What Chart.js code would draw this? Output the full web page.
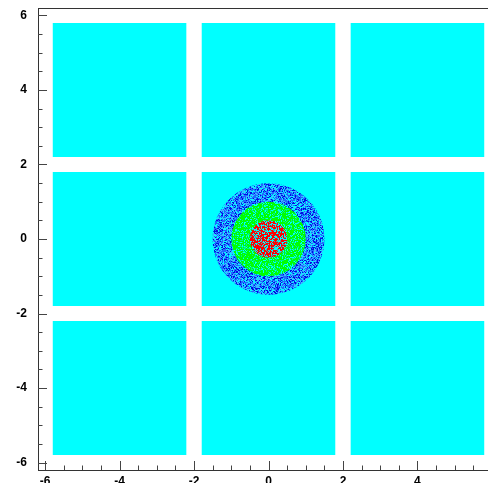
<!DOCTYPE html>
<html lang="en">
<head>
<meta charset="UTF-8">
<title>Detector cells</title>
<script src="https://cdn.jsdelivr.net/npm/chart.js"></script>
<style>
    html, body { margin: 0; padding: 0; overflow: hidden; background: #fff; }
    #wrap { width: 520px; height: 483px; }
</style>
</head>
<body>
<div id="wrap"><canvas id="cellChart" width="520" height="483"></canvas></div>
<script>
// cell edges, same on both axes
const cellLo = [-5.8, -1.8, 2.2];
const cellHi = [-2.2, 1.8, 5.8];

// hit zones around the centre cell, drawn outer first
const ringNames = ['outer', 'middle', 'core'];
const ringX = [0, 0, 0];
const ringY = [0, 0, 0];
const ringRadius = [1.5, 1.0, 0.5];

const majorTicks = [-6, -4, -2, 0, 2, 4, 6];

// speckle fill (style only): colours and their share of pixels, rest is cyan
const ringPalette = [
    [['#0010e0', '#2068ff', '#40b4ff'], [0.22, 0.36, 0.22]],
    [['#00ff00', '#00f088'], [0.64, 0.18]],
    [['#ff0000', '#4aa6a6'], [0.58, 0.12]]
];

function speckle(colors, shares) {
    const n = 128;
    const c = document.createElement('canvas');
    c.width = n; c.height = n;
    const g = c.getContext('2d');
    g.fillStyle = '#00ffff';
    g.fillRect(0, 0, n, n);
    for (let y = 0; y < n; y++) {
        for (let x = 0; x < n; x++) {
            let h = (Math.imul(x + 7, 374761393) + Math.imul(y + 3, 668265263)) | 0;
            h = Math.imul(h ^ (h >>> 13), 1274126177);
            h = (h ^ (h >>> 16)) >>> 0;
            const u = (h % 1000) / 1000;
            let acc = 0;
            for (let i = 0; i < shares.length; i++) {
                acc += shares[i];
                if (u < acc) { g.fillStyle = colors[i]; g.fillRect(x, y, 1, 1); break; }
            }
        }
    }
    return g.createPattern(c, 'repeat');
}

const datasets = [];
cellLo.forEach((y0, j) => {
    cellLo.forEach((x0, i) => {
        datasets.push({
            type: 'line',
            label: 'cell ' + i + ',' + j,
            order: 10,
            data: [{ x: x0, y: cellHi[j] }, { x: cellHi[i], y: cellHi[j] }],
            fill: { value: y0 },
            backgroundColor: '#00ffff',
            borderColor: 'rgba(0,0,0,0)',
            borderWidth: 0,
            pointRadius: 0
        });
    });
});

ringRadius.forEach((r, k) => {
    datasets.push({
        type: 'scatter',
        label: ringNames[k],
        order: 3 - k,
        data: [{ x: ringX[k], y: ringY[k] }],
        pointStyle: 'circle',
        pointRadius: ctx => {
            const s = ctx.chart.scales.x;
            return Math.abs(s.getPixelForValue(ringX[k] + r) - s.getPixelForValue(ringX[k]));
        },
        pointBackgroundColor: speckle(ringPalette[k][0], ringPalette[k][1]),
        pointBorderWidth: 0,
        pointBorderColor: 'rgba(0,0,0,0)'
    });
});

// ROOT style frame with inside ticks
const frameTicks = {
    id: 'frameTicks',
    afterDraw(chart) {
        const { ctx, chartArea: a, scales: { x, y } } = chart;
        ctx.save();
        ctx.strokeStyle = '#333';
        ctx.lineWidth = 1;
        ctx.strokeRect(a.left + 0.5, a.top + 0.5, a.right - a.left, a.bottom - a.top);
        ctx.strokeStyle = '#444';
        ctx.beginPath();
        for (let v = majorTicks[0]; v <= majorTicks[majorTicks.length - 1] + 1e-6; v += 0.5) {
            const len = majorTicks.includes(v) ? 9 : 4.5;
            const px = Math.round(x.getPixelForValue(v)) + 0.5;
            ctx.moveTo(px, a.bottom);
            ctx.lineTo(px, a.bottom - len);
            const py = Math.round(y.getPixelForValue(v)) + 0.5;
            ctx.moveTo(a.left, py);
            ctx.lineTo(a.left + len, py);
        }
        ctx.stroke();
        ctx.restore();
    }
};

const tickFont = { family: 'Liberation Sans', size: 12, weight: 'bold' };

new Chart(document.getElementById('cellChart').getContext('2d'), {
    type: 'scatter',
    data: { datasets: datasets },
    plugins: [frameTicks],
    options: {
        responsive: false,
        animation: false,
        devicePixelRatio: 1,
        events: [],
        layout: { padding: { top: 8, right: 21, left: 0, bottom: 0 } },
        plugins: { legend: { display: false }, tooltip: { enabled: false } },
        scales: {
            x: {
                type: 'linear',
                min: -6.19, max: 6.19,
                afterBuildTicks: s => { s.ticks = majorTicks.map(v => ({ value: v })); },
                afterFit: s => { s.height = 13; s.paddingLeft = 0; s.paddingRight = 0; },
                grid: { display: false, drawTicks: false },
                border: { display: false },
                ticks: { font: tickFont, color: '#000', padding: 4, maxRotation: 0, autoSkip: false }
            },
            y: {
                type: 'linear',
                min: -6.2, max: 6.2,
                afterBuildTicks: s => { s.ticks = majorTicks.map(v => ({ value: v })); },
                afterFit: s => { s.width = 38; s.paddingTop = 0; s.paddingBottom = 0; },
                grid: { display: false, drawTicks: false },
                border: { display: false },
                ticks: { font: tickFont, color: '#000', padding: 11, autoSkip: false }
            }
        }
    }
});
</script>
</body>
</html>
